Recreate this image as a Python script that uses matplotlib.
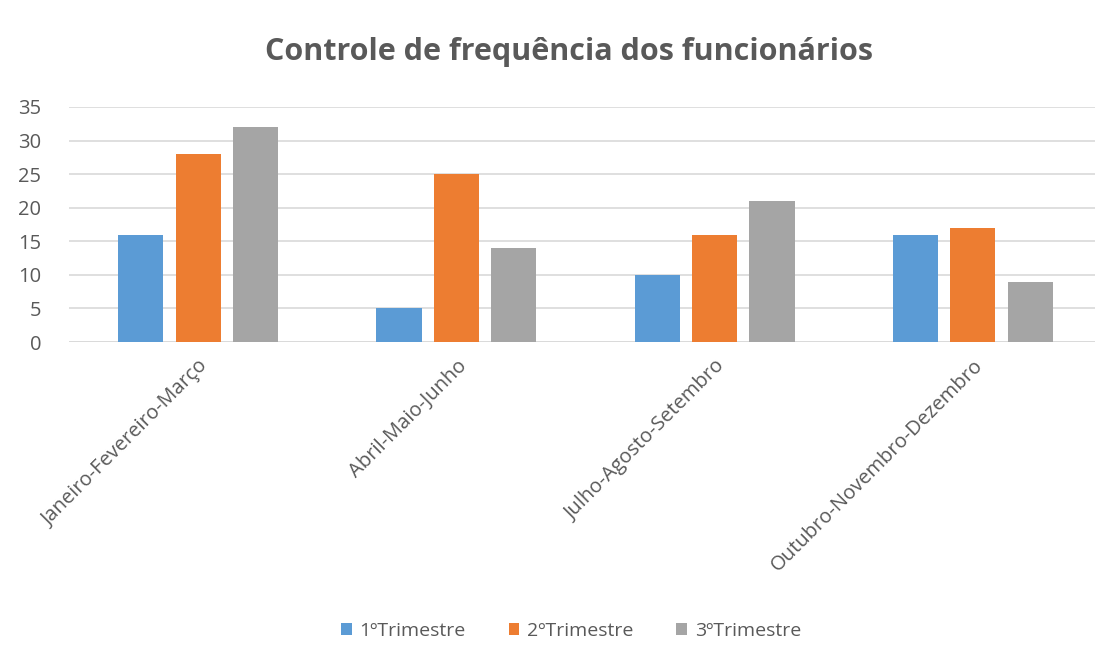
import matplotlib
matplotlib.use("Agg")
import matplotlib.pyplot as plt
import numpy as np

categories = ["Janeiro-Fevereiro-Março", "Abril-Maio-Junho", "Julho-Agosto-Setembro", "Outubro-Novembro-Dezembro"]
series_names = ["1ºTrimestre", "2ºTrimestre", "3ºTrimestre"]
s1 = [16, 5, 10, 16]
s2 = [28, 25, 16, 17]
s3 = [32, 14, 21, 9]
colors = ["#5B9BD5", "#ED7D31", "#A5A5A5"]
yticks = [0, 5, 10, 15, 20, 25, 30, 35]

plt.rcParams['font.family'] = ['Open Sans', 'DejaVu Sans']
txt = "#595959"

W, H = 1095, 662
fig = plt.figure(figsize=(W / 100, H / 100), dpi=100)
ax = fig.add_axes([69 / W, 1 - 342 / H, (W - 69) / W, (342 - 107) / H])

x = np.arange(len(categories))
width = 0.175
offs = [-0.222, 0.0, 0.222]
for vals, name, c, o in zip([s1, s2, s3], series_names, colors, offs):
    ax.bar(x + o, vals, width, color=c, label=name, zorder=3)

ax.set_ylim(0, 35)
ax.set_xlim(-0.5, 3.5 - 7 / 258)
ax.set_yticks(yticks)
ax.yaxis.grid(True, color="#D9D9D9", linewidth=1.2, zorder=0)
for s in ["top", "right", "left", "bottom"]:
    ax.spines[s].set_visible(False)
ax.axhline(0, color="#D9D9D9", linewidth=1.2, zorder=2)
ax.tick_params(axis="both", length=0, colors=txt)
ax.tick_params(axis="y", pad=20, labelsize=14.5)
ax.set_xticks(x)
ax.set_xticklabels(categories, rotation=45, ha="right", rotation_mode="anchor", color=txt, fontsize=14.5)
ax.tick_params(axis="x", pad=10)

fig.text(569 / W, 1 - 52 / H, "Controle de frequência dos funcionários", ha="center", va="center",
         fontsize=22, fontweight="bold", color=txt)

handles, labels = ax.get_legend_handles_labels()
fig.legend(handles, labels, loc="center", bbox_to_anchor=(571 / W, 1 - 631 / H), ncol=3, frameon=False,
           fontsize=14, labelcolor=txt, handlelength=0.55, handleheight=0.55, handletextpad=0.4,
           columnspacing=2.2)

fig.savefig("out.png", dpi=100, facecolor="white")
